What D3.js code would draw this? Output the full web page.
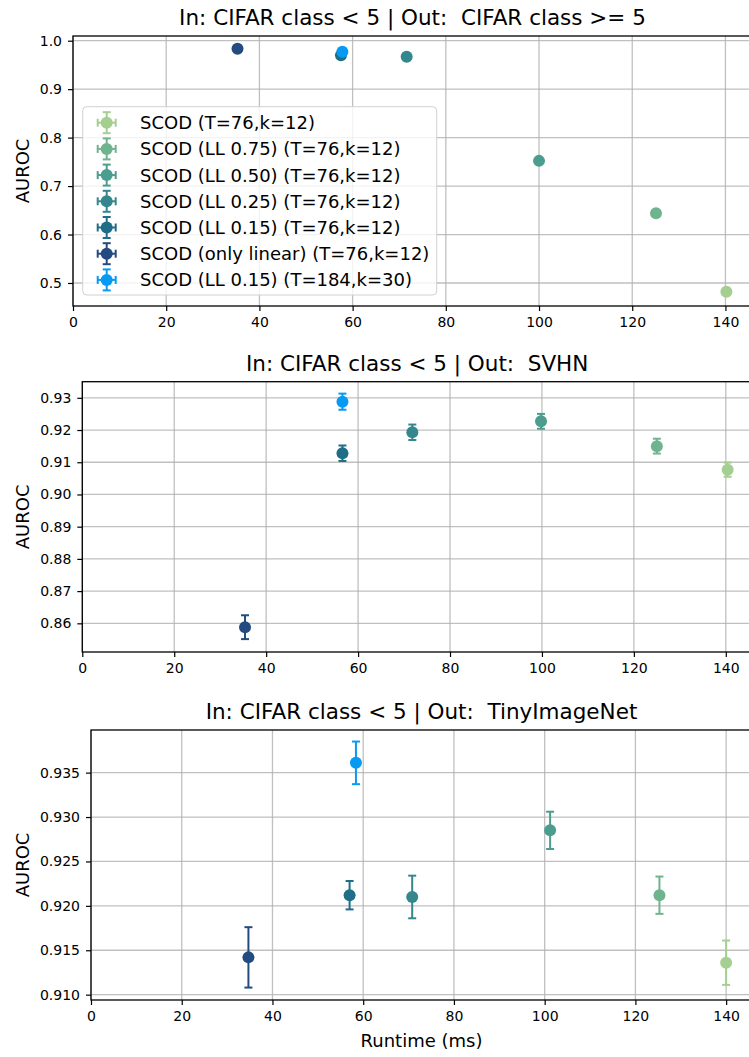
<!DOCTYPE html>
<html>
<head>
<meta charset="utf-8">
<script src="https://cdn.jsdelivr.net/npm/d3@7"></script>
<style>
  body { margin: 0; background: #fff; }
  svg { display: block; font-family: "DejaVu Sans", sans-serif; }
  text.title { white-space: pre; }
</style>
</head>
<body>
<svg id="chart" width="749" height="1057"></svg>
<script>
// series (same order in every panel)
var seriesLabels = [
    "SCOD (T=76,k=12)",
    "SCOD (LL 0.75) (T=76,k=12)",
    "SCOD (LL 0.50) (T=76,k=12)",
    "SCOD (LL 0.25) (T=76,k=12)",
    "SCOD (LL 0.15) (T=76,k=12)",
    "SCOD (only linear) (T=76,k=12)",
    "SCOD (LL 0.15) (T=184,k=30)"
];
var seriesColors = ["#a4cf90", "#70b48f", "#4b9e8f", "#33878d", "#1f6e88", "#244b7f", "#069af3"];

// CIFAR class >= 5
var runtimeCifar = [140.2, 125.1, 100.0, 71.6, 57.5, 35.3, 57.8];
var aurocCifar   = [0.482, 0.644, 0.752, 0.967, 0.970, 0.9835, 0.977];
var errCifar     = [0.001, 0.001, 0.001, 0.001, 0.001, 0.001, 0.001];

// SVHN
var runtimeSvhn = [140.4, 125.0, 99.8, 71.8, 56.6, 35.4, 56.6];
var aurocSvhn   = [0.9077, 0.9150, 0.9227, 0.9193, 0.9128, 0.8588, 0.9288];
var errSvhn     = [0.0022, 0.0023, 0.0023, 0.0024, 0.0024, 0.0037, 0.0025];

// TinyImageNet
var runtimeTin = [140.0, 125.3, 101.2, 70.8, 57.0, 34.7, 58.4];
var aurocTin   = [0.9136, 0.9212, 0.9285, 0.9210, 0.9212, 0.9142, 0.9361];
var errTin     = [0.0025, 0.0021, 0.0021, 0.0024, 0.0016, 0.0034, 0.0024];

var xTicks = [0, 20, 40, 60, 80, 100, 120, 140];
var yTicksCifar = [0.5, 0.6, 0.7, 0.8, 0.9, 1.0];
var yTicksSvhn = [0.86, 0.87, 0.88, 0.89, 0.90, 0.91, 0.92, 0.93];
var yTicksTin = [0.910, 0.915, 0.920, 0.925, 0.930, 0.935];

var svg = d3.select("#chart");
var right = 752;
var xMax = 145.7;

var panels = [
    { title: "In: CIFAR class < 5 | Out:  CIFAR class >= 5", xs: runtimeCifar, ys: aurocCifar, es: errCifar,
      yTicks: yTicksCifar, fmt: ".1f", yDomain: [0.4525, 1.0097], left: 73, top: 36, bottom: 306, legend: true },
    { title: "In: CIFAR class < 5 | Out:  SVHN", xs: runtimeSvhn, ys: aurocSvhn, es: errSvhn,
      yTicks: yTicksSvhn, fmt: ".2f", yDomain: [0.8511, 0.9350], left: 82.3, top: 381.7, bottom: 652 },
    { title: "In: CIFAR class < 5 | Out:  TinyImageNet", xs: runtimeTin, ys: aurocTin, es: errTin,
      yTicks: yTicksTin, fmt: ".3f", yDomain: [0.9094, 0.9398], left: 91, top: 730, bottom: 1000, xlabel: true }
];

panels.forEach(function (p) {
    var x = d3.scaleLinear().domain([0, xMax]).range([p.left, right]);
    var y = d3.scaleLinear().domain(p.yDomain).range([p.bottom, p.top]);
    var g = svg.append("g");

    // grid
    g.selectAll("line.gx").data(xTicks).enter().append("line")
        .attr("x1", function (d) { return x(d); }).attr("x2", function (d) { return x(d); })
        .attr("y1", p.top).attr("y2", p.bottom)
        .attr("stroke", "#b0b0b0").attr("stroke-width", 1.3).attr("stroke-opacity", 0.8);
    g.selectAll("line.gy").data(p.yTicks).enter().append("line")
        .attr("x1", p.left).attr("x2", right)
        .attr("y1", function (d) { return y(d); }).attr("y2", function (d) { return y(d); })
        .attr("stroke", "#b0b0b0").attr("stroke-width", 1.3).attr("stroke-opacity", 0.8);

    // error bars + points
    var idx = d3.range(p.xs.length);
    var pts = g.selectAll("g.pt").data(idx).enter().append("g");
    pts.append("line")
        .attr("x1", function (i) { return x(p.xs[i]); }).attr("x2", function (i) { return x(p.xs[i]); })
        .attr("y1", function (i) { return y(p.ys[i] - p.es[i]); }).attr("y2", function (i) { return y(p.ys[i] + p.es[i]); })
        .attr("stroke", function (i) { return seriesColors[i]; }).attr("stroke-width", 2);
    [-1, 1].forEach(function (s) {
        pts.append("line")
            .attr("x1", function (i) { return x(p.xs[i]) - 4; }).attr("x2", function (i) { return x(p.xs[i]) + 4; })
            .attr("y1", function (i) { return y(p.ys[i] + s * p.es[i]); }).attr("y2", function (i) { return y(p.ys[i] + s * p.es[i]); })
            .attr("stroke", function (i) { return seriesColors[i]; }).attr("stroke-width", 2);
    });
    pts.append("circle")
        .attr("cx", function (i) { return x(p.xs[i]); })
        .attr("cy", function (i) { return y(p.ys[i]); })
        .attr("r", 6)
        .attr("fill", function (i) { return seriesColors[i]; });

    // axes
    var xAxis = g.append("g").attr("transform", "translate(0," + p.bottom + ")")
        .call(d3.axisBottom(x).tickValues(xTicks).tickSize(5).tickPadding(6).tickFormat(d3.format("d")));
    var yAxis = g.append("g").attr("transform", "translate(" + p.left + ",0)")
        .call(d3.axisLeft(y).tickValues(p.yTicks).tickSize(5).tickPadding(6).tickFormat(d3.format(p.fmt)));
    [xAxis, yAxis].forEach(function (a) {
        a.select(".domain").remove();
        a.selectAll("line").attr("stroke", "#000").attr("stroke-width", 1.2);
        a.selectAll("text").attr("font-size", 14).attr("fill", "#000").attr("font-family", "DejaVu Sans");
    });

    // spines
    g.append("rect")
        .attr("x", p.left).attr("y", p.top)
        .attr("width", right - p.left).attr("height", p.bottom - p.top)
        .attr("fill", "none").attr("stroke", "#000").attr("stroke-width", 1.3);

    // title / labels
    svg.append("text").attr("class", "title")
        .attr("x", (p.left + right) / 2).attr("y", p.top - 11)
        .attr("text-anchor", "middle").attr("font-size", 21.5)
        .text(p.title);
    svg.append("text")
        .attr("transform", "translate(28.5," + (p.top + p.bottom) / 2 + ") rotate(-90)")
        .attr("text-anchor", "middle").attr("font-size", 18)
        .text("AUROC");
    if (p.xlabel) {
        svg.append("text")
            .attr("x", (p.left + right) / 2).attr("y", 1046.5)
            .attr("text-anchor", "middle").attr("font-size", 18)
            .text("Runtime (ms)");
    }

    if (p.legend) {
        var lg = svg.append("g");
        lg.append("rect")
            .attr("x", 82.7).attr("y", 106.7).attr("width", 354).attr("height", 188.3)
            .attr("rx", 4).attr("fill", "#fff").attr("fill-opacity", 0.8)
            .attr("stroke", "#d0d0d0").attr("stroke-width", 1);
        var rows = lg.selectAll("g.row").data(seriesLabels).enter().append("g")
            .attr("transform", function (d, i) { return "translate(106.7," + (122.7 + i * 26.2) + ")"; });
        rows.each(function (d, i) {
            var r = d3.select(this);
            var c = seriesColors[i];
            r.append("line").attr("x1", 0).attr("x2", 0).attr("y1", -10.5).attr("y2", 10.5).attr("stroke", c).attr("stroke-width", 2);
            r.append("line").attr("x1", -9).attr("x2", 9).attr("y1", 0).attr("y2", 0).attr("stroke", c).attr("stroke-width", 2);
            [-1, 1].forEach(function (s) {
                r.append("line").attr("x1", -4).attr("x2", 4).attr("y1", s * 10.5).attr("y2", s * 10.5).attr("stroke", c).attr("stroke-width", 2);
                r.append("line").attr("x1", s * 9).attr("x2", s * 9).attr("y1", -4).attr("y2", 4).attr("stroke", c).attr("stroke-width", 2);
            });
            r.append("circle").attr("r", 6).attr("fill", c);
            r.append("text").attr("x", 33.3).attr("y", 0).attr("dy", "0.36em")
                .attr("font-size", 18).attr("fill", "#000").text(d);
        });
    }
});
</script>
</body>
</html>
